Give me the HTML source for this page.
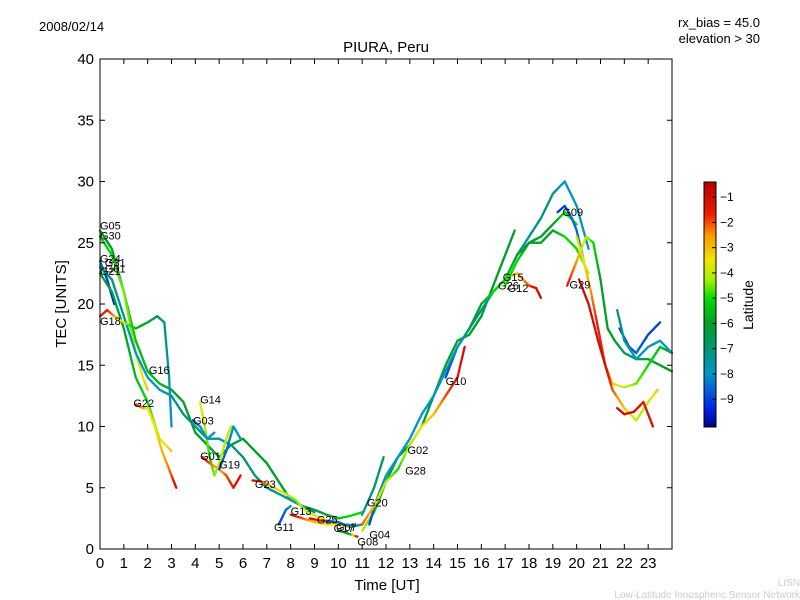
<!DOCTYPE html>
<html><head><meta charset="utf-8"><style>
body{margin:0;background:#fff;}
svg{display:block;font-family:"Liberation Sans","DejaVu Sans",sans-serif;}
</style></head><body>
<svg id="chart" width="800" height="600">
<rect width="800" height="600" fill="#fff"/>
<text x="39" y="31" font-size="13">2008/02/14</text>
<text x="760" y="27" font-size="13" text-anchor="end">rx_bias = 45.0</text>
<text x="760" y="43" font-size="13" text-anchor="end">elevation &gt; 30</text>
<text x="386" y="52" font-size="15" text-anchor="middle">PIURA, Peru</text>
<text x="387" y="590" font-size="15" text-anchor="middle">Time [UT]</text>
<text transform="translate(66,304) rotate(-90)" font-size="15" text-anchor="middle">TEC [UNITS]</text>
<text x="800" y="586" font-size="10" fill="#ccc" text-anchor="end">LISN</text>
<text x="800" y="598" font-size="10" fill="#ccc" text-anchor="end">Low-Latitude Ionospheric Sensor Network</text>
<g id="marks"></g>
<g id="axes"></g>
<g id="cbar"></g>
</svg>
<script>
const xTicks=[0,1,2,3,4,5,6,7,8,9,10,11,12,13,14,15,16,17,18,19,20,21,22,23];
const yTicks=[0,5,10,15,20,25,30,35,40];
const cbarTicks=[-1,-2,-3,-4,-5,-6,-7,-8,-9];
// tracks: [hour, TEC, latitude]
const trkG05=[[0,26,-6],[0.5,24.5,-6],[1,21,-5.5],[1.5,17,-5.5],[2,14.5,-5.5],[2.5,13.5,-5.5],[3,13,-6],[3.5,12,-6],[4,9.5,-6],[4.5,8.5,-6],[5,7.5,-6.5],[5.5,8.5,-6],[6,9,-6],[6.5,8,-6],[7,7,-6],[7.5,5.5,-6],[8,4,-6.5],[8.5,3.5,-6.5],[9,3.2,-6.5],[9.5,2.8,-6],[10,2.5,-5.5],[10.5,2.7,-5],[11,3,-5]];
const trkG30=[[0,25.5,-5],[0.5,24,-5],[1,21,-4.5],[1.3,18,-4.5],[1.5,16,-4],[1.8,14,-3.5],[2,13,-3]];
const trkG24=[[0,23.5,-8.5],[0.3,22,-9],[0.6,20,-9.5]];
const trkG31=[[0,23,-7],[0.5,22,-7],[1,19,-7.5],[1.5,16,-8],[2,14,-8],[2.5,13,-8],[3,12.5,-7.5],[3.5,11,-7],[4,10,-7],[4.5,9,-7.5],[5,9,-7.5],[5.5,8.5,-7.5],[6,7.5,-7],[6.5,6,-7],[7,5,-7],[7.5,4.5,-7.5],[8,4,-7.5],[8.5,3.5,-7.5],[9,3,-7]];
const trkG21=[[0,22.5,-6],[0.5,21,-6.5],[1,18,-6],[1.5,14,-5.5],[2,12,-5],[2.5,9,-4],[3,8,-3]];
const trkG18=[[0,19,-1.5],[0.3,19.5,-1.5],[0.6,19,-2.5],[1,18.5,-4],[1.5,18,-5.5],[2,18.5,-6],[2.4,19,-6.5],[2.7,18.5,-7],[2.9,14,-7.5],[3,10,-8]];
const trkG22=[[1.5,11.8,-1.5],[1.8,11.5,-2.5],[2,11.5,-3.5],[2.3,10,-3.5],[2.6,8,-3],[3,6,-2],[3.2,5,-1]];
const trkG14=[[4.2,12,-3.5],[4.4,10,-4],[4.6,7.5,-5],[4.8,6,-4.5],[5,7,-4],[5.3,9,-4],[5.5,10,-4]];
const trkG03=[[3.9,10.5,-9],[4.2,10,-8],[4.5,9,-8],[4.8,9.5,-8]];
const trkG01=[[4.3,7.5,-1],[4.6,7,-2],[5,6.5,-3],[5.3,6,-2],[5.6,5,-1.5],[5.9,6,-1]];
const trkG19=[[5,6.5,-9],[5.3,8,-8.5],[5.6,10,-8],[5.9,9,-8]];
const trkG23=[[6.4,5.6,-1],[6.8,5.5,-2],[7.3,5,-3],[7.8,4.5,-4],[8.2,4,-4.5],[8.7,3,-4],[9.3,2.5,-3.5],[9.8,2,-2.5]];
const trkG11=[[7.5,2,-9],[7.8,3.2,-8.5],[8,3.5,-8]];
const trkG13=[[8,2.8,-1],[8.5,2.5,-2],[9,2.2,-3],[9.5,2,-3.5],[10,2,-3.5],[10.5,1.8,-3]];
const trkG25=[[8.8,2.5,-1],[9.3,2.3,-1.5],[9.8,2.2,-2.5],[10.2,2,-3]];
const trkG17=[[9.5,2.3,-9],[10,2.2,-8.5],[10.5,1.8,-8],[11,2,-7]];
const trkG08=[[10,1.5,-6],[10.5,1.2,-6],[10.8,1,-1]];
const trkG04=[[11,1.5,-4],[11.5,3,-5],[12,5.5,-6],[12.5,7.5,-6],[13,8.5,-6],[13.5,10,-6],[14,12.5,-6.5],[14.5,15,-6],[15,17,-6],[15.5,17.5,-6],[16,19,-6],[16.5,21.5,-6],[17,24,-6],[17.4,26,-6]];
const trkG20=[[11,2.8,-7.5],[11.5,5,-7],[11.9,7.5,-6.5]];
const trkG02=[[11.3,2,-9],[11.6,4,-8.5],[12,6,-8],[12.5,7.5,-8],[13,9,-8],[13.5,11,-8],[14,12.5,-8],[14.5,14.5,-8],[15,16.5,-7.5],[15.5,18,-7],[16,19.5,-7],[16.5,21,-7.5],[17,22,-8],[17.5,24,-8],[18,25.5,-7.5],[18.5,27,-7],[19,29,-7],[19.5,30,-8],[20,28,-8],[20.5,24.5,-8]];
const trkG28=[[11,2,-2],[11.5,3.5,-3],[12,5.5,-4],[12.5,6.5,-5],[13,8.5,-4],[13.5,10,-3.5],[14,11,-3],[14.5,12.5,-2],[15,14,-1.5],[15.3,16.5,-1]];
const trkG10=[[14.5,14,-9],[15,16.5,-8],[15.5,18,-7],[16,20,-6],[16.5,21,-5],[17,22,-4],[17.5,22.5,-3],[18,21.5,-2],[18.3,21.3,-1],[18.5,20.5,-1]];
const trkG15=[[17,21.5,-5],[17.5,23.5,-5],[18,25,-6],[18.5,25.5,-6],[19,26.5,-6],[19.5,27.5,-5],[20,26.5,-5]];
const trkG26=[[16.5,21,-5],[17,22,-5],[17.5,24,-6],[18,25,-6],[18.5,25,-6],[19,26,-6],[19.5,25.5,-5],[20,24.5,-5],[20.5,22.5,-4]];
const trkG09=[[19.2,27.5,-9],[19.5,28,-9],[19.8,27,-8.5],[20,26,-8.5],[20.3,23.5,-9]];
const trkG29=[[19.6,21.5,-1.5],[20,23.5,-2.5],[20.4,25.5,-4],[20.7,25,-5],[21,22,-6],[21.3,18,-6],[21.6,17,-6],[22,16,-7],[22.5,15.5,-6.5],[23,15.5,-6],[23.5,15,-6],[24,14.5,-6]];
const trkG12=[[20,25.5,-4],[20.3,23.5,-3.5],[20.6,21,-2.5],[20.9,18,-1.5],[21.2,15,-2],[21.5,13.5,-3],[22,13.2,-4],[22.5,13.5,-4.5],[23,15,-5],[23.5,16.5,-5.5],[24,16,-6]];
const trkG32=[[20.1,22,-1],[20.5,20,-1],[20.9,17,-1],[21.2,15,-1],[21.5,13,-2],[22,11.5,-3],[22.5,10.5,-4],[23,12,-4],[23.4,13,-3]];
const trkG06=[[21.7,11.5,-1],[22,11,-1],[22.4,11.2,-1],[22.8,12,-1.5],[23.2,10,-1]];
const trkG07=[[21.8,18,-9],[22.2,16.5,-9],[22.5,16,-8.5],[23,17.5,-9],[23.5,18.5,-9]];
const trkG27=[[21.7,19.5,-7],[22,17,-7.5],[22.5,15.5,-8],[23,16.5,-8],[23.5,17,-8],[24,16,-8]];
const tracks=[trkG05,trkG30,trkG24,trkG31,trkG21,trkG18,trkG22,trkG14,trkG03,trkG01,trkG19,trkG23,trkG11,trkG13,trkG25,trkG17,trkG08,trkG04,trkG20,trkG02,trkG28,trkG10,trkG15,trkG26,trkG09,trkG29,trkG12,trkG32,trkG06,trkG07,trkG27];
const prnNames=["G05","G30","G24","G31","G01","G21","G18","G16","G22","G14","G03","G01","G19","G23","G11","G13","G25","G17","G07","G08","G04","G20","G02","G28","G10","G15","G26","G12","G09","G29"];
const prnH=[0,0,0,0.2,0.2,0,0,2.05,1.4,4.2,3.9,4.2,5,6.5,7.3,8,9.1,9.8,9.9,10.8,11.3,11.2,12.9,12.8,14.5,16.9,16.7,17.1,19.4,19.7];
const prnV=[26.4,25.6,23.7,23.4,22.9,22.7,18.6,14.6,11.9,12.2,10.5,7.6,6.9,5.3,1.8,3.1,2.4,1.7,1.8,0.6,1.2,3.8,8.1,6.4,13.7,22.2,21.5,21.3,27.5,21.6];
const X0=100,X1=672,Y0=549,Y1=59;
const xs=h=>X0+h*(X1-X0)/24;
const ys=v=>Y0-v*(Y0-Y1)/40;
const cbTop=182,cbBot=427,cMin=-10.1,cMax=-0.4;
const cy=l=>cbBot-(l-cMin)/(cMax-cMin)*(cbBot-cbTop);
const cmapLat=[-10.1,-9.3,-8,-7,-6,-5,-4.3,-3.5,-2.5,-1.7,-0.4];
const cmapRGB=[[0,0,140],[0,40,230],[0,150,200],[0,150,120],[0,160,40],[0,220,0],[160,240,0],[240,230,0],[255,150,0],[240,30,0],[180,0,0]];
function col(l){
 l=Math.max(cMin,Math.min(cMax,l));
 for(let i=0;i<cmapLat.length-1;i++){
  if(l<=cmapLat[i+1]){const t=(l-cmapLat[i])/(cmapLat[i+1]-cmapLat[i]);
   const a=cmapRGB[i],b=cmapRGB[i+1];
   return `rgb(${Math.round(a[0]+(b[0]-a[0])*t)},${Math.round(a[1]+(b[1]-a[1])*t)},${Math.round(a[2]+(b[2]-a[2])*t)})`;}
 }
 return 'rgb(180,0,0)';
}
const NS='http://www.w3.org/2000/svg';
function mk(tag,attrs,parent){const e=document.createElementNS(NS,tag);for(const k in attrs)e.setAttribute(k,attrs[k]);parent.appendChild(e);return e;}
const marks=document.getElementById('marks');
tracks.forEach((tr,ti)=>{
 const g=mk('g',{},marks);
 
 
 for(let i=0;i<tr.length-1;i++){
  const a=tr[i],b=tr[i+1];
  const steps=6;
  for(let s=0;s<steps;s++){
   const t0=s/steps,t1=(s+1)/steps;
   const h0=a[0]+(b[0]-a[0])*t0,v0=a[1]+(b[1]-a[1])*t0,h1=a[0]+(b[0]-a[0])*t1,v1=a[1]+(b[1]-a[1])*t1;
   const l=a[2]+(b[2]-a[2])*(t0+t1)/2;
   const seg=mk('line',{x1:xs(h0),y1:ys(v0),x2:xs(h1),y2:ys(v1),stroke:col(l),'stroke-width':2.3,'stroke-linecap':'round'},g);
   
   
  }
 }
});
prnNames.forEach((n,i)=>{
 const t=mk('text',{x:xs(prnH[i]),y:ys(prnV[i])+4,'font-size':11},marks);
 t.textContent=n;
 
 
});
const ax=document.getElementById('axes');
const frame=mk('rect',{x:X0,y:Y1,width:X1-X0,height:Y0-Y1,fill:'none',stroke:'#000','stroke-width':1},ax);


xTicks.forEach(h=>{
 const x=xs(h);
 mk('line',{x1:x,y1:Y0,x2:x,y2:Y0-5,stroke:'#000'},ax);
 mk('line',{x1:x,y1:Y1,x2:x,y2:Y1+5,stroke:'#000'},ax);
 const t=mk('text',{x:x,y:Y0+19,'font-size':15,'text-anchor':'middle'},ax);
 t.textContent=h;
 
 
});
yTicks.forEach(v=>{
 const y=ys(v);
 mk('line',{x1:X0,y1:y,x2:X0+5,y2:y,stroke:'#000'},ax);
 mk('line',{x1:X1,y1:y,x2:X1-5,y2:y,stroke:'#000'},ax);
 const t=mk('text',{x:X0-6,y:y+5,'font-size':15,'text-anchor':'end'},ax);
 t.textContent=v;
 
 
});
const cb=document.getElementById('cbar');
for(let i=0;i<245;i++){
 const y=cbTop+i;
 const l=cMax-(i+0.5)/(cbBot-cbTop)*(cMax-cMin);
 mk('rect',{x:704,y:y,width:12,height:1.2,fill:col(l)},cb);
}
const cbf=mk('rect',{x:704,y:cbTop,width:12,height:cbBot-cbTop,fill:'none',stroke:'#000'},cb);


cbarTicks.forEach(l=>{
 const y=cy(l);
 mk('line',{x1:712,y1:y,x2:716,y2:y,stroke:'#000'},cb);
 const t=mk('text',{x:720,y:y+4,'font-size':12},cb);
 t.textContent='\u2212'+Math.abs(l);
 
 
});
const ct=mk('text',{transform:'translate(753,305) rotate(-90)','font-size':14,'text-anchor':'middle'},cb);
ct.textContent='Latitude';


</script>
</body></html>
